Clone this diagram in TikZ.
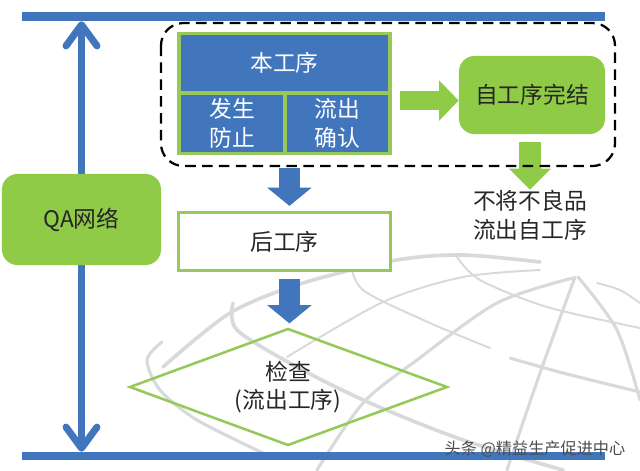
\documentclass[tikz,border=0pt]{standalone}
\usepackage{fontspec}
\setmainfont{Noto Sans CJK SC}
\usetikzlibrary{arrows.meta}
\definecolor{barColor}{HTML}{4175BC}
\definecolor{leafColor}{HTML}{8FCB46}
\definecolor{edgeColor}{HTML}{96C85A}
\definecolor{globeColor}{HTML}{D8D9DC}
\tikzset{
  label text/.style={font=\fontsize{16.2}{20.5}\selectfont, align=center, inner sep=0pt},
  bar/.style={fill=barColor, inner sep=0pt},
  cell/.style={label text, fill=barColor, text=white},
  pill/.style={label text, fill=leafColor, rounded corners=11pt, text=black!85},
  blue arrow/.style={barColor, line width=15pt, -{Triangle[length=13pt,width=31pt]}},
  green arrow/.style={leafColor, line width=13.5pt, -{Triangle[length=14pt,width=28pt]}},
  globe/.style={globeColor, line width=1.4pt, line cap=round},
  qa tip/.tip={Straight Barb[length=15pt,width=22pt,round]},
}
\begin{document}
\begin{tikzpicture}[x=0.025cm,y=-0.025cm]
  \useasboundingbox (0,0) rectangle (640,470);
  \draw[globe, line width=2.6pt] plot[smooth] coordinates {(163,367) (230,313) (303,283) (397,260) (463,255) (540,262)};
  \draw[globe] plot[smooth] coordinates {(287,357) (383,302) (463,277) (540,270)};
  \draw[globe, line width=2.2pt] plot[smooth] coordinates {(317,470) (363,403) (417,360) (497,303) (573,278)};
  \draw[globe, line width=2.2pt] plot[smooth] coordinates {(507,470) (540,373) (575,277)};
  \draw[globe, line width=2.2pt] plot[smooth] coordinates {(578,277) (617,330) (640,400)};
  \draw[globe] plot[smooth] coordinates {(457,257) (480,280) (547,307) (640,328)};
  \draw[globe] plot[smooth] coordinates {(350,260) (363,290) (430,323) (490,348)};
  \draw[globe, line width=2.2pt] plot[smooth] coordinates {(510,358) (563,373) (640,392)};
  \draw[globe, line width=2.6pt] plot[smooth] coordinates {(233,303) (237,330) (297,367) (370,403) (463,440) (563,470)};
  \draw[globe, line width=2.2pt] plot[smooth] coordinates {(162,342) (147,360) (160,390) (197,420) (263,453)};
  \draw[globe] plot[smooth] coordinates {(597,283) (620,290) (640,303)};

  \node[bar, minimum width=14.575cm, minimum height=0.225cm] (topbar) at (313.5,16.5) {};
  \node[bar, minimum width=14.575cm, minimum height=0.2cm] (bottombar) at (313.5,456) {};
  \coordinate (qacentre) at (81.5,219.5);
  \draw[barColor, line width=5pt, {qa tip}-{qa tip}]
    (qacentre |- topbar.south) -- (qacentre |- bottombar.north);
  \node[pill, minimum width=3.975cm, minimum height=2.275cm] (qa) at (qacentre) {QA网络};

  \node[fill=edgeColor, minimum width=5.375cm, minimum height=3.075cm, inner sep=0pt] (main) at (284.5,93.5) {};
  \node[cell, minimum width=5.175cm, minimum height=1.4cm] (own) at (284.5,62.5) {本工序};
  \node[cell, minimum width=2.55cm, minimum height=1.425cm] (prevent) at (232,123.5) {发生\\防止};
  \node[cell, minimum width=2.525cm, minimum height=1.425cm] (confirm) at (337.5,123.5) {流出\\确认};

  \node[pill, minimum width=3.65cm, minimum height=1.95cm] (done) at (532,95) {自工序完结};
  \node[label text, text=black!85] (goal) at (530,215) {不将不良品\\流出自工序};
  \draw[green arrow, shorten <=5.5pt] ([yshift=-5pt]main.east) -- ([yshift=-5pt]main.east -| done.west);
  \draw[green arrow, line width=15.5pt, -{Triangle[length=15pt,width=29pt]}, shorten <=5.7pt] (goal.north |- done.south) -- (goal.north);
  \draw[black, line width=1.6pt, dash pattern=on 7.5pt off 4.5pt, rounded corners=16pt] (161,23) rectangle (615,166);

  \node[draw=edgeColor, line width=2.4pt, fill=white, label text, text=black!85, minimum width=5.3cm, minimum height=1.45cm] (next) at (284.5,241.5) {后工序};
  \draw[blue arrow, shorten <=9pt, shorten >=3.5pt] ([xshift=3.5pt]main.south) -- ([xshift=3.5pt]next.north);

  \coordinate (checktop) at (288,329);
  \draw[edgeColor, line width=1.8pt] (checktop) -- (447,387) -- (288,445) -- (130,387) -- cycle;
  \node[label text, text=black!85] (check) at (288,387) {检查\\(流出工序)};
  \draw[blue arrow, shorten <=4.5pt, shorten >=4pt] ([xshift=3.5pt]next.south) -- ([xshift=3.5pt]next.south |- checktop);

  \node[font=\fontsize{11.5}{13}\selectfont, text=black!70, inner sep=0pt] (mark) at (535,449) {头条 @精益生产促进中心};
\end{tikzpicture}
\end{document}
